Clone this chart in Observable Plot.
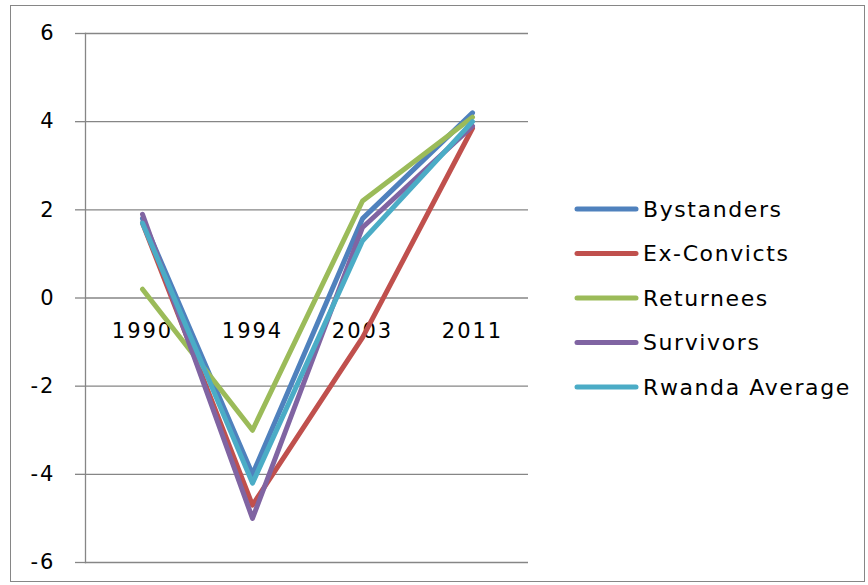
<!DOCTYPE html>
<html>
<head>
<meta charset="utf-8">
<script src="https://cdn.jsdelivr.net/npm/d3@7"></script>
<script src="https://cdn.jsdelivr.net/npm/@observablehq/plot@0.6"></script>
<style>
  html, body { margin: 0; padding: 0; background: #fff; }
  #wrap { position: relative; width: 868px; height: 585px; overflow: hidden; }
  #border { position: absolute; left: 10px; top: 5px; width: 855px; height: 577px; border: 1px solid #868686; box-sizing: border-box; pointer-events: none; }
  #legend { position: absolute; left: 0; top: 0; }
</style>
</head>
<body>
<div id="wrap"><div id="border"></div></div>
<script>
const years = ["1990", "1994", "2003", "2011"];
const seriesNames = ["Bystanders", "Ex-Convicts", "Returnees", "Survivors", "Rwanda Average"];
const seriesColors = ["#4F81BD", "#C0504D", "#9BBB59", "#8064A2", "#4BACC6"];
const bystanders = [1.8, -4.0, 1.8, 4.2];
const exConvicts = [1.7, -4.7, -0.9, 3.85];
const returnees = [0.2, -3.0, 2.2, 4.1];
const survivors = [1.9, -5.0, 1.6, 3.9];
const rwandaAverage = [1.7, -4.2, 1.3, 4.0];
const yTicks = [-6, -4, -2, 0, 2, 4, 6];

const seriesValues = [bystanders, exConvicts, returnees, survivors, rwandaAverage];
const data = [];
seriesNames.forEach((s, i) => years.forEach((yr, j) => data.push({series: s, year: yr, value: seriesValues[i][j]})));

const grey = "#868686";
const font = "DejaVu Sans";

const chart = Plot.plot({
  width: 868,
  height: 585,
  marginLeft: 85,
  marginRight: 340,
  marginTop: 33,
  marginBottom: 23,
  style: {fontFamily: font, fontSize: "21px", color: "#000", background: "transparent"},
  x: {type: "point", domain: years, padding: 0.5, axis: null},
  y: {domain: [-6, 6], axis: null},
  color: {domain: seriesNames, range: seriesColors},
  marks: [
    Plot.ruleY(yTicks, {stroke: grey, strokeWidth: 1.3, strokeOpacity: 1}),
    Plot.frame({anchor: "left", stroke: grey, strokeWidth: 1.3}),
    Plot.axisY({ticks: yTicks, label: null, tickSize: 10, tickPadding: 20, stroke: grey, strokeWidth: 1.3, strokeOpacity: 1, fill: "#000", fontSize: 21, tickFormat: d => d === 0 ? "0" : (d < 0 ? "-" + Math.abs(d) : String(d))}),
    Plot.text(years, {x: d => d, y: 0, dy: 33, text: d => d, fill: "#000", fontSize: 21}),
    Plot.line(data, {x: "year", y: "value", z: "series", stroke: "series", strokeWidth: 5, strokeLinejoin: "round", strokeLinecap: "round"})
  ]
});
chart.querySelectorAll("text").forEach(t => t.style.letterSpacing = "2px");
document.getElementById("wrap").insertBefore(chart, document.getElementById("border"));

// legend
const ns = "http://www.w3.org/2000/svg";
const leg = document.createElementNS(ns, "svg");
leg.setAttribute("id", "legend");
leg.setAttribute("width", 868);
leg.setAttribute("height", 585);
const legTop = 209, legStep = 44.5;
seriesNames.forEach((s, i) => {
  const yy = legTop + i * legStep;
  const l = document.createElementNS(ns, "line");
  l.setAttribute("x1", 577); l.setAttribute("x2", 636);
  l.setAttribute("y1", yy); l.setAttribute("y2", yy);
  l.setAttribute("stroke", seriesColors[i]);
  l.setAttribute("stroke-width", 5);
  l.setAttribute("stroke-linecap", "round");
  leg.appendChild(l);
  const t = document.createElementNS(ns, "text");
  t.setAttribute("x", 643); t.setAttribute("y", yy);
  t.setAttribute("dy", "0.36em");
  t.setAttribute("font-family", font);
  t.setAttribute("font-size", 22);
  t.setAttribute("letter-spacing", "1.6px");
  t.textContent = s;
  leg.appendChild(t);
});
document.getElementById("wrap").appendChild(leg);
</script>
</body>
</html>
